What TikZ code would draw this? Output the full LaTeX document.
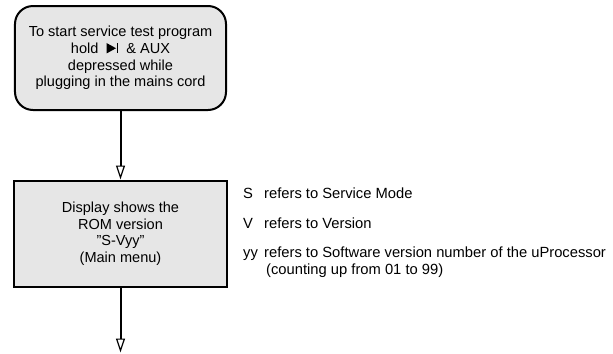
\documentclass[tikz,border=0pt]{standalone}
\usepackage{fontspec}
\setmainfont{Liberation Sans}
\usetikzlibrary{arrows.meta}
\definecolor{boxfill}{HTML}{E6E6E6}
\tikzset{
  stepbox/.style={draw=black, line width=2bp, fill=boxfill, inner sep=0pt, align=center,
    font=\fontsize{14.6}{16.6}\selectfont},
  flow/.style={line width=2bp, -{Triangle[open, length=14bp, width=9bp, line width=1.2bp]}},
  note/.style={anchor=base west, inner sep=0pt, font=\fontsize{14.8}{17}\selectfont, align=left}
}
\newcommand{\playskip}{\tikz[baseline=0bp, x=1bp, y=1bp, sharp corners]{\fill (0,0) -- (0,10.5bp) -- (9.5bp,5.25bp) -- cycle; \fill (10.2bp,0) rectangle (11.8bp,10.5bp);}}
\begin{document}
\begin{tikzpicture}[x=1bp,y=-1bp]
\useasboundingbox (0,0) rectangle (613,353);
\node[stepbox, rounded corners=18bp, minimum width=211bp, minimum height=104bp] (start) at (120.5,58)
  {To start service test program\\hold \ \playskip\ \ \& AUX\\depressed while\\plugging in the mains cord};
\node[stepbox, minimum width=213bp, minimum height=106bp] (disp) at (120.5,233.5)
  {Display shows the\\ROM version\\\char34 S-Vyy\char34\\(Main menu)};
\coordinate (next) at (120.5,352.5);
\draw[flow] (start) -- (disp);
\draw[flow] (disp) -- (next);
\node[note] (s) at (243,198.5) {S};
\node[note] (st) at (264,198.5) {refers to Service Mode};
\node[note] (v) at (243,228.5) {V};
\node[note] (vt) at (264,228.5) {refers to Version};
\node[note] (y) at (243,257.5) {yy};
\node[note] (yt) at (264,257.5) {refers to Software version number of the uProcessor};
\node[note] (yt2) at (266,274.5) {(counting up from 01 to 99)};
\end{tikzpicture}
\end{document}
